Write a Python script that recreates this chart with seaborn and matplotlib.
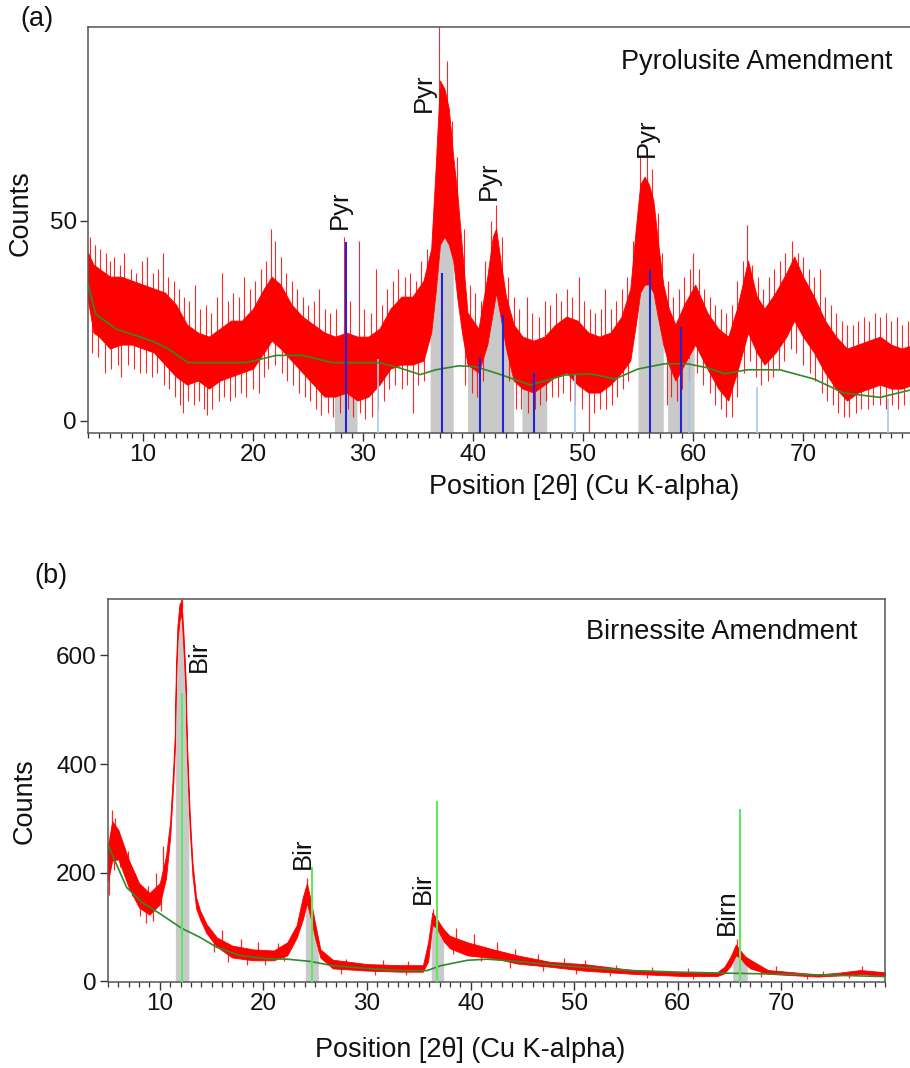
import numpy as np
import pandas as pd
import matplotlib
matplotlib.use("Agg")
import matplotlib.pyplot as plt
import seaborn as sns
from matplotlib.ticker import MultipleLocator, FixedLocator

sns.set_theme(style="ticks")
plt.rcParams['font.family'] = ['Liberation Sans', 'DejaVu Sans']

# ---------------- Panel (a): Pyrolusite amendment ----------------
a_x = [5.0, 5.5, 6.0, 7.0, 8.0, 9.0, 10.0, 11.0, 12.0, 13.0, 14.0, 15.0, 16.0, 17.0, 18.0, 19.0,
       20.0, 21.0, 21.7, 22.5, 23.5, 24.5, 25.5, 26.5, 27.5, 28.5, 29.5, 30.5, 31.5, 32.5, 33.5,
       34.5, 35.5, 36.2, 36.6, 37.0, 37.4, 37.8, 38.2, 38.6, 39.0, 39.5, 40.5, 41.3, 41.8, 42.1,
       42.5, 43.0, 43.7, 44.5, 45.5, 46.5, 47.5, 48.5, 49.5, 50.5, 51.5, 52.5, 53.5, 54.3, 54.8,
       55.2, 55.6, 56.0, 56.4, 56.8, 57.3, 57.8, 58.4, 59.2, 60.2, 61.3, 62.3, 63.2, 64.0, 65.0,
       65.8, 66.5, 67.5, 68.5, 69.2, 70.0, 71.0, 72.0, 73.0, 74.0, 75.0, 76.0, 77.0, 78.0, 79.0, 80.0]
a_lo = [30, 22, 21, 18, 19, 19, 18, 17, 14, 11, 9, 10, 8, 10, 11, 12,
        13, 17, 20, 18, 15, 12, 9, 6, 6, 7, 5, 6, 9, 13, 14,
        14, 15, 22, 32, 44, 46, 44, 40, 30, 22, 14, 12, 19, 27, 32,
        26, 18, 10, 8, 7, 9, 11, 12, 9, 7, 7, 9, 12, 15, 24,
        32, 34, 34, 32, 26, 19, 14, 10, 14, 19, 13, 8, 5, 12, 22,
        17, 14, 17, 21, 25, 21, 17, 12, 8, 5, 7, 8, 9, 8, 8, 9]
a_hi = [42, 39, 38, 36, 36, 35, 34, 33, 32, 29, 24, 22, 21, 23, 25, 25,
        28, 33, 36, 34, 29, 26, 24, 22, 21, 22, 21, 21, 23, 28, 31,
        31, 35, 43, 63, 85, 83, 78, 66, 56, 43, 27, 23, 36, 46, 48,
        40, 31, 24, 21, 20, 21, 24, 26, 25, 22, 21, 22, 26, 33, 48,
        59, 61, 59, 55, 45, 34, 28, 24, 29, 34, 27, 23, 21, 28, 40,
        31, 28, 32, 37, 41, 36, 31, 25, 21, 18, 19, 20, 21, 19, 18, 19]
# individual noise excursions
a_up_x = [5.2, 5.6, 6.1, 6.6, 7.0, 7.4, 7.9, 8.3, 8.9, 9.4, 9.9, 10.4, 10.9, 11.4, 11.8, 12.3,
          12.8, 13.3, 13.7, 14.2, 14.7, 15.2, 15.7, 16.2, 16.7, 17.2, 17.7, 18.2, 18.7, 19.2,
          19.7, 20.2, 20.7, 21.2, 21.6, 22.0, 22.5, 23.0, 23.5, 24.0, 24.5, 25.0, 25.5, 26.0,
          26.5, 27.0, 27.5, 28.3, 28.8, 29.6, 30.1, 30.7, 31.2, 31.7, 32.2, 32.7, 33.2, 33.8,
          34.3, 34.8, 35.3, 35.8, 36.9, 37.6, 38.1, 38.5, 39.2, 39.7, 40.2, 40.7, 41.1, 41.6,
          42.1, 42.6, 43.2, 43.7, 44.2, 44.9, 45.4, 46.0, 46.5, 47.0, 47.5, 48.0, 48.5, 49.0,
          49.6, 50.1, 50.6, 51.1, 51.6, 52.0, 52.5, 53.0, 53.5, 54.0, 54.5, 55.2, 55.8, 56.3,
          56.8, 57.2, 57.7, 58.2, 58.7, 59.2, 59.7, 60.0, 60.5, 61.0, 61.5, 62.0, 62.5, 63.0,
          63.5, 64.0, 64.5, 64.9, 65.4, 65.9, 66.4, 66.9, 67.4, 67.9, 68.4, 69.0, 69.5, 70.0,
          70.5, 71.0, 71.5, 72.0, 72.5, 73.0, 73.5, 74.0, 74.5, 75.0, 75.5, 76.0, 76.5, 77.0,
          77.5, 78.0, 78.5, 79.0, 79.5]
a_up_y = [46, 44, 43, 42, 40, 41, 39, 42, 38, 37, 40, 41, 37, 38, 42, 36,
          35, 33, 31, 30, 34, 28, 29, 27, 31, 37, 30, 32, 31, 36,
          33, 35, 38, 40, 48, 45, 41, 37, 35, 33, 31, 29, 30, 33,
          28, 27, 28, 46, 30, 45, 28, 27, 38, 29, 33, 35, 38, 36,
          37, 35, 40, 43, 99, 90, 75, 66, 48, 34, 32, 30, 40, 50,
          54, 46, 36, 31, 28, 31, 27, 26, 30, 29, 32, 30, 33, 31,
          36, 30, 28, 27, 28, 33, 28, 30, 33, 36, 45, 66, 66, 63,
          52, 42, 35, 31, 33, 36, 38, 42, 38, 33, 31, 29, 28, 27,
          29, 35, 40, 49, 39, 36, 33, 36, 38, 40, 42, 45, 42, 41,
          38, 36, 38, 31, 29, 27, 25, 24, 24, 25, 26, 25, 27, 26,
          27, 25, 26, 24, 25]
a_dn_x = [5.4, 5.9, 6.5, 7.1, 7.7, 8.0, 8.6, 9.2, 9.7, 10.3, 10.8, 11.3, 11.9, 12.4, 12.9,
          13.4, 13.6, 14.1, 14.6, 15.1, 15.5, 15.8, 16.3, 16.9, 17.4, 17.9, 18.4, 18.9, 19.4,
          20.0, 20.5, 21.0, 21.4, 22.0, 22.6, 23.1, 23.6, 24.2, 24.7, 25.2, 25.7, 26.2, 26.8,
          27.3, 27.9, 28.6, 29.1, 29.7, 30.2, 30.8, 31.4, 31.9, 32.4, 32.9, 33.5, 34.0, 34.5,
          35.0, 35.5, 39.3, 39.9, 40.4, 40.9, 43.3, 43.9, 44.4, 45.0, 45.6, 46.1, 46.6, 47.2,
          47.7, 48.2, 48.8, 49.3, 49.9, 50.5, 51.0, 51.5, 52.1, 52.6, 53.1, 53.6, 54.1, 57.6,
          58.0, 58.5, 59.0, 59.6, 60.4, 60.9, 61.5, 62.0, 62.5, 63.0, 63.5, 64.0, 64.6, 65.2,
          65.7, 66.2, 66.8, 67.3, 67.8, 68.3, 68.9, 69.4, 70.0, 70.6, 71.1, 71.7, 72.2, 72.7,
          73.2, 73.7, 74.2, 74.8, 75.3, 75.9, 76.4, 77.0, 77.5, 78.1, 78.6, 79.2, 79.7]
a_dn_y = [17, 16, 12, 13, 14, 11, 14, 13, 12, 12, 11, 12, 9, 8, 6,
          4, 2, 5, 4, 5, 3, 1.5, 3, 5, 6, 5, 6, 7, 6,
          8, 7, 11, 13, 14, 12, 10, 9, 7, 6, 5, 3, 1.5, 2,
          1, 2, 3, 1, 2, 0.5, 1, 3, 5, 8, 9, 8, 9, 2,
          9, 10, 9, 7, 6, 10, 10, 3, 3, 2, 3, 4, 5, 6,
          6, 7, 5, 4, 3, -3, 2, 3, 3, 4, 6, 8, 10, 4,
          6, 5, 8, 10, 12, 9, 7, 4, 3, 1, 1, 6, 12, 15,
          11, 9, 10, 11, 13, 15, 18, 17, 14, 12, 10, 7, 5, 4,
          2, 1, 1, 2, 3, 3, 4, 4, 3, 4, 3, 4, 4]
a_bg_x = [5.0, 5.7, 7.6, 9.1, 10.9, 12.2, 14.1, 19.4, 22.1, 24.5, 27.2, 31.5, 33.3, 35.2, 36.6,
          38.7, 40.2, 42.3, 45.2, 48.4, 50.7, 52.9, 55.0, 57.4, 59.5, 61.3, 62.9, 64.9, 67.9,
          71.0, 73.7, 77.0, 80.0]
a_bg_y = [34.2, 26.6, 22.8, 21.5, 19.8, 18.1, 14.5, 14.5, 16.3, 16.3, 14.5, 14.5, 13.2, 11.5, 12.7,
          13.7, 13.5, 11.7, 8.9, 11.4, 11.7, 10.4, 12.9, 14.2, 14.2, 13.2, 11.7, 12.7, 12.7,
          10.4, 6.9, 5.8, 7.8]
a_grey_start = [27.4, 36.1, 39.5, 44.45, 55.0, 57.7]
a_grey_end   = [29.45, 38.2, 43.7, 46.7, 57.3, 60.1]
a_ref_pos = [28.45, 37.2, 40.6, 42.7, 45.5, 56.1, 58.9]
a_ref_int = [44.7, 37.0, 15.7, 26.4, 12.0, 37.6, 23.4]
a_other_pos = [31.4, 49.3, 59.6, 65.8, 77.7]
a_other_int = [15.5, 11.4, 15.5, 8.4, 5.3]
a_lab_text = ["Pyr", "Pyr", "Pyr", "Pyr"]
a_lab_x = [27.9, 35.5, 41.4, 55.8]
a_lab_y = [52.6, 82.0, 60.0, 70.8]

# ---------------- Panel (b): Birnessite amendment ----------------
b_x = [5.0, 5.4, 6.0, 7.0, 8.0, 9.0, 10.0, 10.6, 11.0, 11.3, 11.45, 11.55, 11.7, 11.9, 12.1,
       12.3, 12.5, 12.6, 12.75, 12.9, 13.15, 13.5, 13.9, 14.5, 15.5, 17.0, 19.0, 21.0, 22.3,
       23.2, 23.8, 24.2, 24.6, 25.0, 25.5, 26.7, 30.0, 33.2, 35.4, 35.9, 36.3, 36.7, 37.4,
       38.0, 39.7, 42.2, 44.5, 47.7, 50.9, 55.7, 60.5, 63.8, 64.5, 65.1, 65.6, 66.0, 66.5,
       67.0, 68.7, 73.5, 75.5, 77.6, 80.0]
b_lo = [185, 222, 225, 173, 136, 123, 142, 190, 265, 365, 425, 545, 625, 665, 675,
        605, 525, 425, 345, 275, 195, 135, 114, 89, 64, 44, 39, 39, 48,
        80, 114, 144, 114, 79, 44, 24, 20, 18, 18, 37, 104, 99, 74,
        61, 48, 43, 33, 27, 20, 14, 10, 10, 15, 29, 48, 44, 32,
        24, 14, 9, 11, 14, 10]
b_hi = [249, 295, 279, 224, 181, 163, 181, 231, 295, 395, 455, 575, 655, 695, 700,
        635, 555, 455, 375, 305, 220, 155, 130, 106, 81, 66, 59, 57, 72,
        103, 155, 181, 146, 106, 59, 40, 32, 30, 30, 72, 127, 116, 96,
        84, 72, 59, 48, 36, 32, 21, 17, 17, 27, 46, 68, 58, 46,
        40, 21, 13, 16, 21, 17]
b_up_x = [5.2, 5.4, 5.7, 6.3, 6.9, 7.6, 8.3, 8.9, 9.6, 10.3, 12.0, 12.1, 16.0, 17.8, 19.5, 21.4,
          24.2, 28.0, 31.5, 34.0, 36.4, 38.6, 40.3, 42.5, 44.3, 46.5, 49.0, 51.0, 54.0, 57.5,
          61.0, 65.7, 69.5, 74.0, 77.8]
b_up_y = [270, 315, 300, 262, 240, 200, 176, 176, 200, 250, 704, 704, 95, 78, 72, 70,
          190, 42, 40, 38, 134, 98, 88, 72, 60, 50, 44, 40, 30, 26,
          24, 78, 28, 20, 28]
b_dn_x = [5.1, 5.6, 6.2, 7.3, 8.1, 8.7, 9.3, 10.1, 15.2, 16.6, 18.4, 20.2, 22.0, 27.5, 30.8,
          33.8, 38.3, 41.0, 43.8, 47.0, 50.2, 53.5, 57.0, 61.5, 68.0, 72.5, 76.5]
b_dn_y = [160, 205, 210, 158, 120, 108, 112, 130, 55, 35, 30, 30, 38, 14, 12,
          11, 50, 38, 25, 20, 14, 10, 7, 5, 9, 5, 7]
b_bg_x = [5.0, 6.8, 8.4, 10.0, 12.1, 13.9, 15.5, 17.7, 20.3, 22.3, 24.5, 26.7, 30.0, 33.2, 35.8,
          37.1, 39.7, 41.6, 44.5, 47.7, 50.9, 55.7, 60.5, 65.4, 71.8, 80.0]
b_bg_y = [251, 173, 144, 125, 98, 81, 63, 48, 42, 41, 37, 29, 24, 20, 20,
          29, 39, 41, 37, 31, 26, 20, 17, 15, 13, 9]
b_grey_start = [11.5, 24.05, 36.2, 65.3]
b_grey_end   = [12.8, 25.3, 37.4, 66.7]
b_ref_pos = [12.1, 24.65, 36.8, 66.0]
b_ref_int = [531, 210, 332, 317]
b_lab_text = ["Bir", "Bir", "Bir", "Birn"]
b_lab_x = [13.8, 23.8, 35.4, 64.7]
b_lab_y = [599, 236, 171, 128]

RED = "#ff0000"
BG = "#2e8a2a"
GREY = "#c9c9c9"
FS_TICK = 17.5
FS_TXT = 19.5
FS_PK = 18.5
TXT = "#111111"

fig = plt.figure(figsize=(9.1, 10.68), dpi=100)
ax_a = fig.add_axes([88/910, (1068-433)/1068, 825/910, 406/1068])
ax_b = fig.add_axes([108/910, (1068-982)/1068, 777/910, 383/1068])


def draw(ax, x, lo, hi, ux, uy, dx, dy, bgx, bgy, gs, ge, ylim, spike_lw):
    x = np.asarray(x, float); lo = np.asarray(lo, float); hi = np.asarray(hi, float)
    for s, e in zip(gs, ge):
        gx = np.linspace(s, e, 60)
        ax.fill_between(gx, ylim[0], np.interp(gx, x, lo), color=GREY, lw=0, zorder=1)
    ax.fill_between(x, lo, hi, color=RED, lw=0.6, edgecolor=RED, zorder=2)
    ux = np.asarray(ux, float); dx = np.asarray(dx, float)
    ax.vlines(ux, np.interp(ux, x, (lo + hi) / 2), uy, color=RED, lw=spike_lw, alpha=0.85, zorder=2)
    ax.vlines(dx, dy, np.interp(dx, x, (lo + hi) / 2), color=RED, lw=spike_lw, alpha=0.85, zorder=2)
    df = pd.DataFrame({"x": bgx, "y": bgy})
    sns.lineplot(data=df, x="x", y="y", ax=ax, color=BG, lw=1.2, zorder=4)


draw(ax_a, a_x, a_lo, a_hi, a_up_x, a_up_y, a_dn_x, a_dn_y, a_bg_x, a_bg_y,
     a_grey_start, a_grey_end, (-3.1, 98.4), 0.8)
ax_a.vlines(a_other_pos, -3.1, a_other_int, color="#a9c9ef", lw=1.2, zorder=3)
ax_a.vlines(a_ref_pos, -3.1, a_ref_int, color="#2323d8", lw=1.5, zorder=5)

draw(ax_b, b_x, b_lo, b_hi, b_up_x, b_up_y, b_dn_x, b_dn_y, b_bg_x, b_bg_y,
     b_grey_start, b_grey_end, (-1, 704), 0.9)
ax_b.vlines(b_ref_pos, -1, b_ref_int, color="#5fe85f", lw=1.5, zorder=5)

for ax, ylim, yt in [(ax_a, (-3.1, 98.4), [0, 50]), (ax_b, (-1, 704), [0, 200, 400, 600])]:
    ax.set_xlim(5, 80)
    ax.set_ylim(*ylim)
    ax.xaxis.set_major_locator(FixedLocator([10, 20, 30, 40, 50, 60, 70]))
    ax.xaxis.set_minor_locator(MultipleLocator(1))
    ax.yaxis.set_major_locator(FixedLocator(yt))
    ax.tick_params(axis="both", which="major", direction="out", length=6, width=1.0,
                   color="#333333", labelsize=FS_TICK, pad=2, labelcolor=TXT)
    ax.tick_params(axis="x", which="minor", direction="out", length=3.5, width=0.9, color="#333333")
    for sp in ax.spines.values():
        sp.set_visible(True)
        sp.set_color("#555555")
        sp.set_linewidth(1.1)
    ax.set_xlabel("Position [2θ] (Cu K-alpha)", fontsize=FS_TXT, color=TXT)
    ax.set_ylabel("Counts", fontsize=FS_TXT, color=TXT)

ax_a.xaxis.set_label_coords(0.601, -0.101)
ax_a.yaxis.set_label_coords(-0.0945 + 0.028, 0.542)
ax_b.xaxis.set_label_coords(0.466, -0.1436)
ax_b.yaxis.set_label_coords(-0.117 + 0.027, 0.4726)
ax_a.xaxis.label.set_va("top")
ax_b.xaxis.label.set_va("top")

for t, xx, yy in zip(a_lab_text, a_lab_x, a_lab_y):
    ax_a.text(xx, yy, t, rotation=90, ha="center", va="center", fontsize=FS_PK, color=TXT, zorder=6)
for t, xx, yy in zip(b_lab_text, b_lab_x, b_lab_y):
    ax_b.text(xx, yy, t, rotation=90, ha="center", va="center", fontsize=FS_PK, color=TXT, zorder=6)

ax_a.text(0.9745, 0.914, "Pyrolusite Amendment", transform=ax_a.transAxes, ha="right", va="center",
          fontsize=FS_TXT, color=TXT)
ax_b.text(0.964, 0.914, "Birnessite Amendment", transform=ax_b.transAxes, ha="right", va="center",
          fontsize=FS_TXT, color=TXT)

fig.text(20/910, 1 - 6/1068, "(a)", ha="left", va="top", fontsize=FS_TXT, color=TXT)
fig.text(34/910, 1 - 563/1068, "(b)", ha="left", va="top", fontsize=FS_TXT, color=TXT)

fig.savefig("out.png", dpi=100)
